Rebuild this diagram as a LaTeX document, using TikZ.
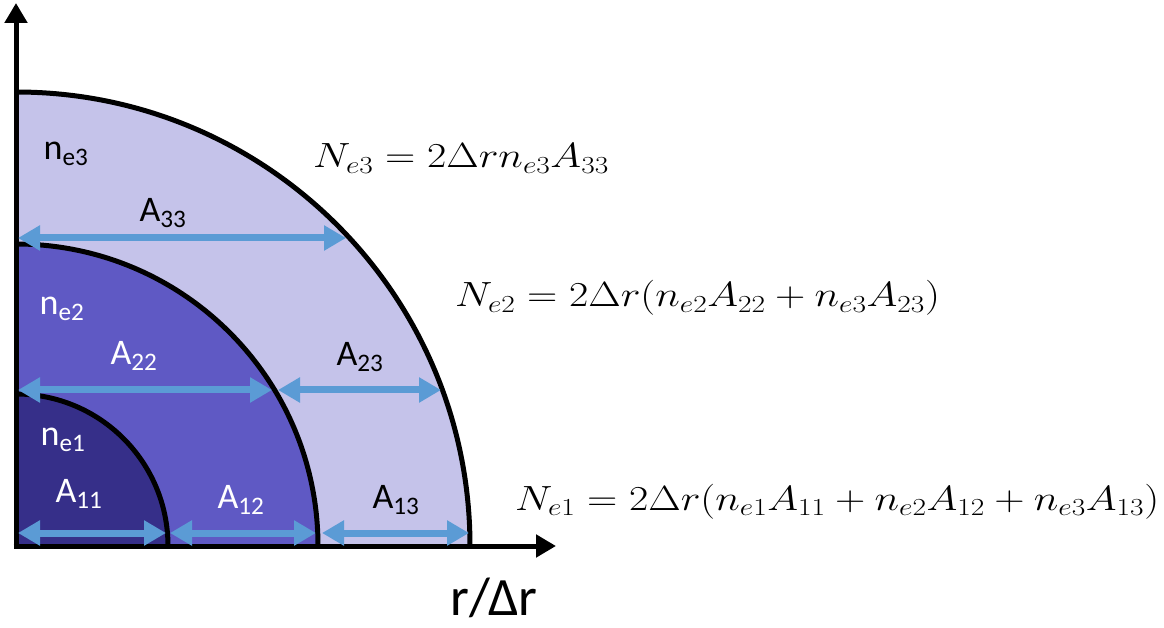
\RequirePackage{fix-cm}
\documentclass[tikz,border=0pt]{standalone}
\usepackage{graphicx}
\usepackage{fontspec}
\setsansfont{Carlito}
\usetikzlibrary{arrows.meta}
\definecolor{outerfill}{HTML}{C5C3EA}
\definecolor{midfill}{HTML}{5F59C4}
\definecolor{innerfill}{HTML}{362F89}
\definecolor{arrblue}{HTML}{5B9BD5}
\tikzset{
  arcline/.style={line width=5pt, black},
  axisline/.style={line width=5pt, black, -{Triangle[length=20pt,width=22pt]}},
  dimarrow/.style={line width=7pt, arrblue, {Triangle[length=22pt,width=24pt]}-{Triangle[length=22pt,width=24pt]}},
  lab/.style={font=\sffamily\fontsize{36}{40}\selectfont, inner sep=0pt, text=black},
  wlab/.style={lab, text=white},
  eqn/.style={font=\fontsize{35}{40}\selectfont, inner sep=0pt, anchor=base west},
}
\newcommand{\eqwide}[1]{\scalebox{1.2}[1]{$#1$}}
\begin{document}
\begin{tikzpicture}[x=1pt,y=1pt]
\useasboundingbox (0,0) rectangle (1164,627);
\coordinate (O) at (16,81);
% fills
\fill[outerfill] (O) -- ++(0,454) arc[start angle=90,end angle=0,radius=454] -- cycle;
\fill[midfill] (O) -- ++(0,302) arc[start angle=90,end angle=0,radius=302] -- cycle;
\fill[innerfill] (O) -- ++(0,152) arc[start angle=90,end angle=0,radius=152] -- cycle;
% arcs
\draw[arcline] (16,535) arc[start angle=90,end angle=0,radius=454];
\draw[arcline] (16,383) arc[start angle=90,end angle=0,radius=302];
\draw[arcline] (16,233) arc[start angle=90,end angle=0,radius=152];
% axes
\coordinate (yend) at (16,624);
\coordinate (xend) at (556,81);
\draw[axisline] (16,78.5) -- (yend);
\draw[axisline] (13.5,81) -- (xend);
% dimension arrows
\coordinate (r1a) at (18,94);  \coordinate (r1b) at (166,94);
\coordinate (r1c) at (170,94); \coordinate (r1d) at (316,94);
\coordinate (r1e) at (322,94); \coordinate (r1f) at (469,94);
\coordinate (r2a) at (18,237); \coordinate (r2b) at (272,237);
\coordinate (r2c) at (278,237); \coordinate (r2d) at (441,237);
\coordinate (r3a) at (18,389); \coordinate (r3b) at (346,389);
\draw[dimarrow] (r1a) -- (r1b);
\draw[dimarrow] (r1c) -- (r1d);
\draw[dimarrow] (r1e) -- (r1f);
\draw[dimarrow] (r2a) -- (r2b);
\draw[dimarrow] (r2c) -- (r2d);
\draw[dimarrow] (r3a) -- (r3b);
% labels
\node[lab]  (ne3) at (66,473) {n\textsubscript{e3}};
\node[lab]  (a33) at (163,414) {A\textsubscript{33}};
\node[wlab] (ne2) at (62,318) {n\textsubscript{e2}};
\node[wlab] (a22) at (134,271) {A\textsubscript{22}};
\node[lab]  (a23) at (360,270) {A\textsubscript{23}};
\node[wlab] (ne1) at (63,187) {n\textsubscript{e1}};
\node[wlab] (a11) at (79,133) {A\textsubscript{11}};
\node[wlab] (a12) at (241,127) {A\textsubscript{12}};
\node[lab]  (a13) at (396,127) {A\textsubscript{13}};
\node[font=\sffamily\fontsize{54}{60}\selectfont, inner sep=0pt] (xlab) at (494,29) {r/Δr};
% equations
\node[eqn] (eq3) at (313,459) {\eqwide{N_{e3}=2\Delta r n_{e3}A_{33}}};
\node[eqn] (eq2) at (455,320) {\eqwide{N_{e2}=2\Delta r(n_{e2}A_{22}+n_{e3}A_{23})}};
\node[eqn] (eq1) at (515,117) {\eqwide{N_{e1}=2\Delta r(n_{e1}A_{11}+n_{e2}A_{12}+n_{e3}A_{13})}};
\end{tikzpicture}
\end{document}
